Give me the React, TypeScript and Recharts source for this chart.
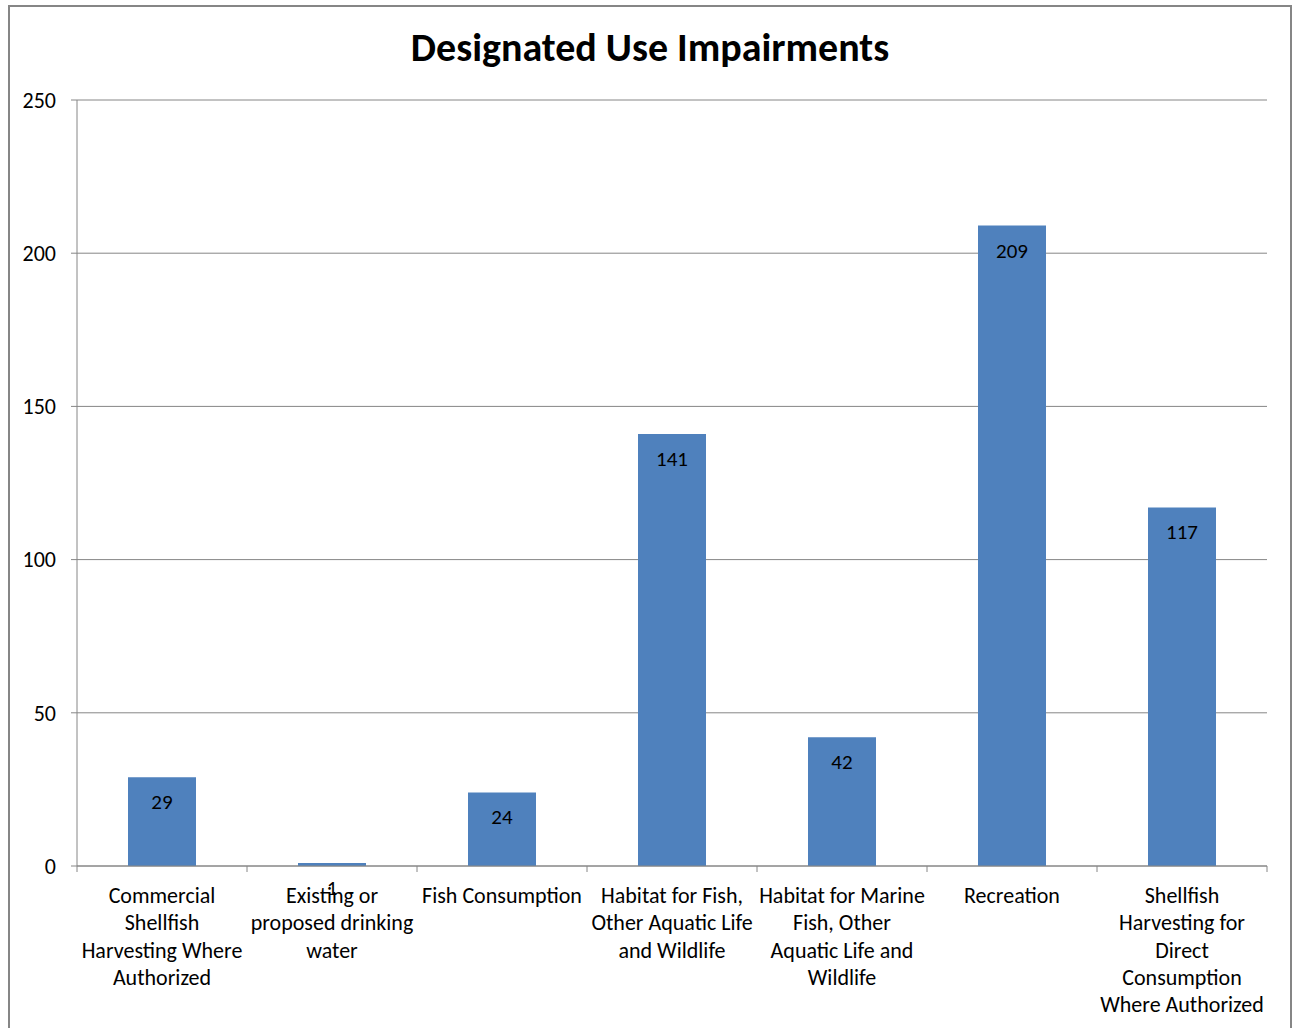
import { BarChart, Bar, XAxis, YAxis, CartesianGrid, LabelList } from "recharts";

const categoryLines: string[][] = [
  ["Commercial", "Shellfish", "Harvesting Where", "Authorized"],
  ["Existing or", "proposed drinking", "water"],
  ["Fish Consumption"],
  ["Habitat for Fish,", "Other Aquatic Life", "and Wildlife"],
  ["Habitat for Marine", "Fish, Other", "Aquatic Life and", "Wildlife"],
  ["Recreation"],
  ["Shellfish", "Harvesting for", "Direct", "Consumption", "Where Authorized"],
];
const categories = categoryLines.map((l) => l.join(" "));
const impairments = [29, 1, 24, 141, 42, 209, 117];
const yTicks = [0, 50, 100, 150, 200, 250];

const data = categories.map((name, i) => ({ name, value: impairments[i] }));

const FONT = "Carlito, Lato, 'Liberation Sans', sans-serif";
const AXIS = "#868686";

function CategoryTick(props: any) {
  const { x, y, payload, index } = props;
  const half = payload?.offset ?? 85;
  const lines = categoryLines[index] ?? [String(payload.value)];
  return (
    <g>
      <line x1={x - half} x2={x - half} y1={y} y2={y + 6} stroke={AXIS} />
      {index === categories.length - 1 && (
        <line x1={x + half} x2={x + half} y1={y} y2={y + 6} stroke={AXIS} />
      )}
      {lines.map((ln, i) => (
        <text
          key={i}
          x={x}
          y={y + 37 + i * 27.3}
          textAnchor="middle"
          fontSize={22}
          fontFamily={FONT}
          fill="#000"
        >
          {ln}
        </text>
      ))}
    </g>
  );
}

function App() {
  return (
    <div
      style={{
        position: "absolute",
        left: 8,
        top: 5,
        width: 1284,
        height: 1030,
        border: `2px solid ${AXIS}`,
        boxSizing: "border-box",
        background: "#fff",
        fontFamily: FONT,
      }}
    >
      <div
        style={{
          position: "absolute",
          top: 16,
          left: 0,
          right: 0,
          textAlign: "center",
          fontSize: 40,
          fontWeight: "bold",
          color: "#000",
        }}
      >
        Designated Use Impairments
      </div>
      <BarChart
        width={1280}
        height={1030}
        data={data}
        margin={{ top: 93, right: 23, bottom: 0, left: 0 }}
        barCategoryGap="30%"
      >
        <CartesianGrid vertical={false} stroke={AXIS} />
        <XAxis
          dataKey="name"
          interval={0}
          height={171}
          axisLine={{ stroke: AXIS }}
          tickLine={false}
          tickSize={0}
          tickMargin={0}
          tick={<CategoryTick />}
        />
        <YAxis
          domain={[0, 250]}
          ticks={yTicks}
          width={67}
          axisLine={{ stroke: AXIS }}
          tickLine={{ stroke: AXIS }}
          tickSize={6}
          tickMargin={15}
          tick={{ fill: "#000", fontSize: 22, fontFamily: FONT }}
        />
        <Bar dataKey="value" fill="#4F81BD" isAnimationActive={false}>
          <LabelList
            dataKey="value"
            position="insideTop"
            offset={17}
            fill="#000"
            fontSize={21}
            fontFamily={FONT}
          />
        </Bar>
      </BarChart>
    </div>
  );
}

export default App;
